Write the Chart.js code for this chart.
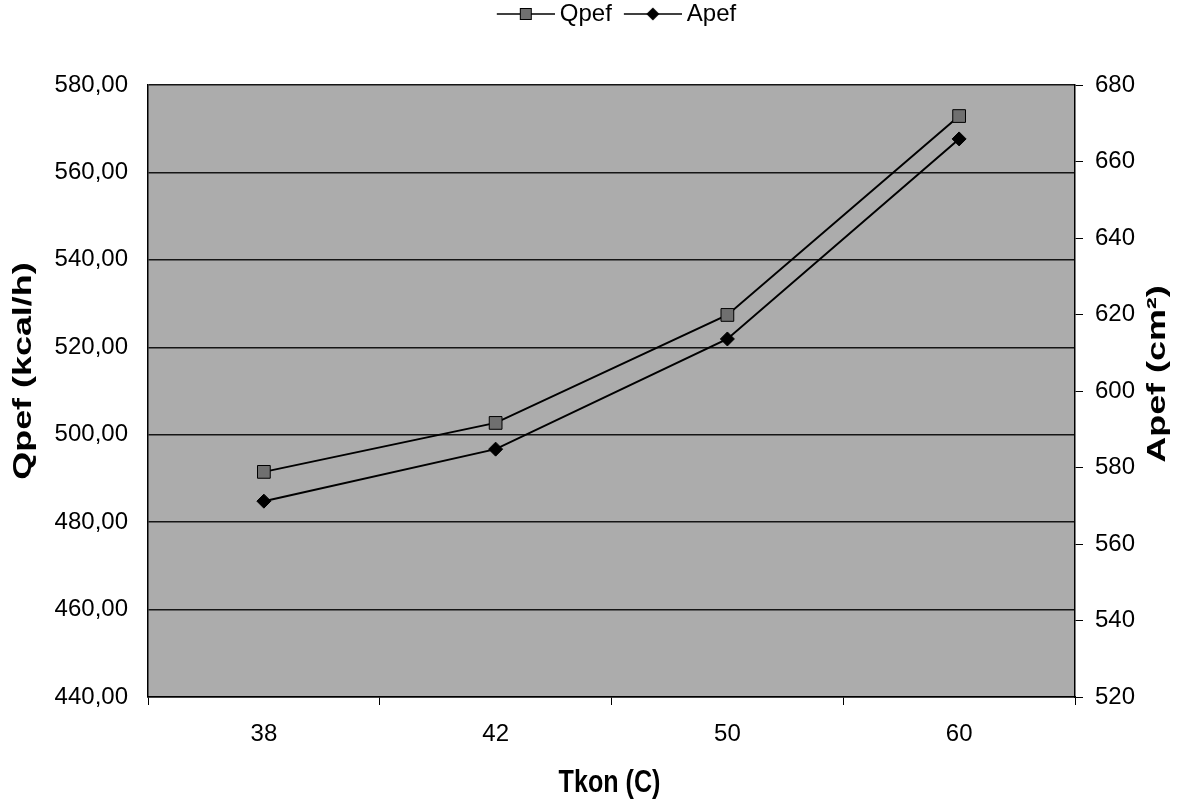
<!DOCTYPE html>
<html>
<head>
<meta charset="utf-8">
<title>Qpef / Apef - Tkon</title>
<script src="https://cdn.jsdelivr.net/npm/chart.js@4.4.1/dist/chart.umd.min.js"></script>
<style>
  html, body { margin: 0; padding: 0; background: #fff; }
  #wrap { width: 1190px; height: 802px; }
</style>
</head>
<body>
<div id="wrap"><canvas id="chart" width="1190" height="802"></canvas></div>
<script>
// condenser temperature categories and the two series
var tkon = ['38', '42', '50', '60'];
var qpef = [491.5, 502.7, 527.4, 572.9];   // kcal/h, left axis
var apef = [571.2, 584.8, 613.6, 665.9];   // cm², right axis

// axis ranges
var qpefRange = [440, 580];
var apefRange = [520, 680];
var tickStep = 20;

var FONT = '"Liberation Sans", Arial, Helvetica, sans-serif';

// little line+marker pictures for the legend entries
// (left 17px left blank so entries don't run into each other)
function legendMark(style) {
    var c = document.createElement('canvas');
    c.width = 75;
    c.height = 16;
    var g = c.getContext('2d');
    g.strokeStyle = '#000';
    g.lineWidth = 1.5;
    g.beginPath();
    g.moveTo(17, 8);
    g.lineTo(75, 8);
    g.stroke();
    if (style == 'rect') {
        g.fillStyle = '#707070';
        g.fillRect(40, 2, 12, 12);
        g.lineWidth = 1;
        g.strokeRect(40.5, 2.5, 11, 11);
    } else {
        g.fillStyle = '#000';
        g.beginPath();
        g.moveTo(46, 1.5);
        g.lineTo(52.5, 8);
        g.lineTo(46, 14.5);
        g.lineTo(39.5, 8);
        g.closePath();
        g.fill();
    }
    return c;
}

var plotBackground = {
    id: 'plotBackground',
    beforeDraw: function(chart) {
        var a = chart.chartArea;
        var ctx = chart.ctx;
        ctx.save();
        ctx.fillStyle = '#acacac';
        ctx.fillRect(a.left, a.top, a.right - a.left, a.bottom - a.top);
        ctx.restore();
    }
};

// axis titles, the vertical ones both read bottom to top
var axisTitles = {
    id: 'axisTitles',
    afterDraw: function(chart) {
        var a = chart.chartArea;
        var ctx = chart.ctx;
        ctx.save();
        ctx.fillStyle = '#000';
        ctx.textAlign = 'center';
        ctx.textBaseline = 'alphabetic';
        ctx.font = 'bold 26px ' + FONT;
        function vertical(text, x, y) {
            ctx.save();
            ctx.translate(x, y);
            ctx.rotate(-Math.PI / 2);
            ctx.scale(1.38, 1);
            ctx.fillText(text, 0, 0);
            ctx.restore();
        }
        vertical('Qpef (kcal/h)', 31, 371);
        vertical('Apef (cm²)', 1165, 374);

        ctx.font = 'bold 31px ' + FONT;
        ctx.save();
        ctx.translate((a.left + a.right) / 2 - 2, 792);
        ctx.scale(0.81, 1);
        ctx.fillText('Tkon (C)', 0, 0);
        ctx.restore();
        ctx.restore();
    }
};

var ctx = document.getElementById('chart').getContext('2d');
var chart = new Chart(ctx, {
    type: 'line',
    data: {
        labels: tkon,
        datasets: [{
            label: 'Qpef',
            data: qpef,
            yAxisID: 'yQ',
            borderColor: '#000',
            borderWidth: 2,
            tension: 0,
            pointStyle: 'rect',
            pointRadius: 9,
            pointBackgroundColor: '#707070',
            pointBorderColor: '#000',
            pointBorderWidth: 1
        }, {
            label: 'Apef',
            data: apef,
            yAxisID: 'yA',
            borderColor: '#000',
            borderWidth: 2,
            tension: 0,
            pointStyle: 'rectRot',
            pointRadius: 7,
            pointBackgroundColor: '#000',
            pointBorderColor: '#000',
            pointBorderWidth: 1
        }]
    },
    options: {
        responsive: false,
        animation: false,
        layout: { padding: 0 },
        plugins: {
            // empty box between the legend and the plot, keeps the gap
            title: {
                display: true,
                text: '',
                weight: 500,
                font: { size: 1 },
                padding: { top: 0, bottom: 47.8 }
            },
            legend: {
                position: 'top',
                fullSize: false,
                labels: {
                    usePointStyle: true,
                    pointStyleWidth: 61,
                    padding: 2,
                    color: '#000',
                    font: { family: FONT, size: 24 },
                    generateLabels: function(chart) {
                        return chart.data.datasets.map(function(ds, i) {
                            return {
                                text: ds.label,
                                datasetIndex: i,
                                pointStyle: legendMark(ds.pointStyle),
                                fillStyle: '#000',
                                strokeStyle: '#000',
                                lineWidth: 0,
                                fontColor: '#000',
                                hidden: false
                            };
                        });
                    }
                }
            },
            tooltip: { enabled: false }
        },
        scales: {
            x: {
                offset: true,
                grid: {
                    display: true,
                    drawOnChartArea: false,
                    offset: true,
                    tickLength: 8,
                    color: '#000'
                },
                border: { color: '#000', width: 1.5 },
                ticks: { color: '#000', padding: 15, font: { family: FONT, size: 24 } },
                afterFit: function(scale) { scale.height = 105; }
            },
            yQ: {
                position: 'left',
                min: qpefRange[0],
                max: qpefRange[1],
                ticks: {
                    stepSize: tickStep,
                    padding: 20,
                    color: '#000',
                    font: { family: FONT, size: 24 },
                    callback: function(v) { return v.toFixed(2).replace('.', ','); }
                },
                grid: { color: '#151515', lineWidth: 1.5, drawTicks: false },
                border: { color: '#000', width: 1.5 },
                afterFit: function(scale) { scale.width = 148; }
            },
            yA: {
                position: 'right',
                min: apefRange[0],
                max: apefRange[1],
                ticks: {
                    stepSize: tickStep,
                    padding: 12,
                    color: '#000',
                    font: { family: FONT, size: 24 }
                },
                grid: { drawOnChartArea: false, tickLength: 8, color: '#000' },
                border: { color: '#000', width: 1.5 },
                afterFit: function(scale) { scale.width = 115; }
            }
        }
    },
    plugins: [plotBackground, axisTitles]
});
</script>
</body>
</html>
